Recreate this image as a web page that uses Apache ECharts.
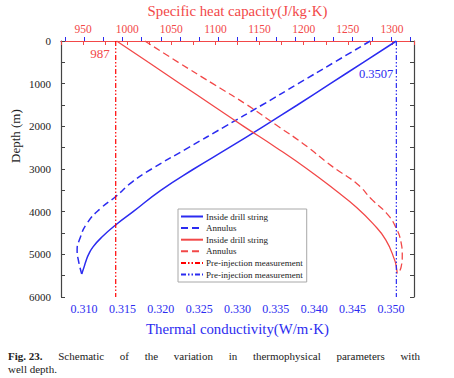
<!DOCTYPE html>
<html>
<head>
<meta charset="utf-8">
<script src="https://cdn.jsdelivr.net/npm/echarts@6/dist/echarts.min.js"></script>
<style>
html,body{margin:0;padding:0;background:#fff;}
#wrap{position:relative;width:454px;height:378px;}
#chart{position:absolute;left:0;top:0;width:454px;height:378px;}
.cap{position:absolute;left:8px;width:412px;font-family:'Liberation Serif','Times New Roman',serif;font-size:11px;line-height:12px;color:#222;white-space:nowrap;}
#cap1{top:350px;text-align:justify;text-align-last:justify;}
#cap2{top:363px;}
#cap1 b{display:inline-block;}
</style>
</head>
<body>
<div id="wrap">
<div id="chart"></div>
<div class="cap" id="cap1"><b>Fig. 23.</b> Schematic of the variation in thermophysical parameters with</div>
<div class="cap" id="cap2">well depth.</div>
</div>
<script>
// ---- data ----
const depthTicks = [0, 1000, 2000, 3000, 4000, 5000, 6000];
const condTickLabels = [0.310, 0.315, 0.320, 0.325, 0.330, 0.335, 0.340, 0.345, 0.350];
const heatTickLabels = [950, 1000, 1050, 1100, 1150, 1200, 1250, 1300];

// Thermal conductivity – inside drill string (blue solid)
const condInsideDepth = [0, 500, 1000, 1500, 2000, 2500, 3000, 3500, 4000, 4300, 4600, 4820, 5000, 5130, 5300, 5460];
const condInsideVal = [0.3507, 0.3464, 0.3421, 0.3378, 0.3334, 0.3289, 0.3243, 0.3200, 0.3164, 0.3142, 0.3123, 0.3112, 0.3106, 0.3103, 0.3100, 0.3097];

// Thermal conductivity – annulus (blue dashed)
const condAnnDepth = [0, 500, 1000, 1500, 2000, 2500, 3000, 3300, 3650, 3900, 4270, 4660, 4900, 5170, 5460];
const condAnnVal = [0.3473, 0.3426, 0.3379, 0.3332, 0.3284, 0.3236, 0.3188, 0.3163, 0.3141, 0.3123, 0.3104, 0.3094, 0.3091, 0.3093, 0.3097];

// Specific heat – inside drill string (red solid)
const heatInsideDepth = [0, 500, 1000, 1500, 2000, 2500, 3000, 3500, 3900, 4270, 4660, 5130, 5300, 5450];
const heatInsideVal = [988, 1024, 1060, 1096, 1132, 1169, 1204, 1236, 1260, 1278, 1293, 1303, 1305, 1306];

// Specific heat – annulus (red dashed)
const heatAnnDepth = [0, 500, 1000, 1500, 2000, 2400, 2950, 3340, 3730, 4040, 4350, 4740, 5015, 5290, 5450];
const heatAnnVal = [1020, 1058, 1097, 1136, 1171, 1199, 1233, 1260, 1278, 1294, 1304, 1310.5, 1311.7, 1310.5, 1307];

// Pre-injection measurements
const preHeat = 987;
const preCond = 0.3507;
const preDepth = [0, 6000];

const RED = '#f24848';
const BLUE = '#2b2bf0';
const SERIF = "'Liberation Serif','Times New Roman',serif";

function pairs(xs, ys) { return xs.map((x, i) => [x, ys[i]]); }

const condTicks = [];
for (let v = 0.3075; v < 0.3530; v += 0.0025) condTicks.push(+v.toFixed(4));

const chart = echarts.init(document.getElementById('chart'), null, {renderer: 'svg'});
const option = {
  animation: false,
  backgroundColor: '#fff',
  grid: {left: 61, right: 40, top: 41, bottom: 81, outerBoundsMode: 'none', containLabel: false},
  legend: {
    orient: 'vertical', left: 178, top: 209,
    itemWidth: 22, itemHeight: 8, itemGap: 2.6,
    padding: [3, 4, 3, 2],
    borderColor: '#a8a8a8', borderWidth: 1, backgroundColor: '#fff',
    itemStyle: {color: 'rgba(0,0,0,0)', borderColor: 'rgba(0,0,0,0)', borderWidth: 0, opacity: 0},
    textStyle: {fontFamily: SERIF, fontSize: 9, color: '#222', padding: [0, 0, 0, -2]},
    data: ['Inside drill string', 'Annulus', 'Inside drill string\u200b', 'Annulus\u200b', 'Pre-injection measurement', 'Pre-injection measurement\u200b']
  },
  xAxis: [{
    type: 'value', position: 'bottom', min: 0.307, max: 0.353,
    name: 'Thermal conductivity(W/m·K)', nameLocation: 'middle', nameGap: 24,
    nameTextStyle: {color: BLUE, fontFamily: SERIF, fontSize: 14.8},
    axisLine: {show: true, lineStyle: {color: BLUE, width: 1.2}},
    axisTick: {show: true, inside: true, length: 4, customValues: condTicks, lineStyle: {color: BLUE}},
    axisLabel: {customValues: condTickLabels, color: BLUE, fontFamily: SERIF, fontSize: 12, margin: 6,
      formatter: v => v.toFixed(3)},
    splitLine: {show: false}
  }, {
    type: 'value', position: 'top', min: 925, max: 1325, interval: 25,
    name: 'Specific heat capacity(J/kg·K)', nameLocation: 'middle', nameGap: 21,
    nameTextStyle: {color: RED, fontFamily: SERIF, fontSize: 14.8},
    axisLine: {show: true, lineStyle: {color: RED, width: 1.2}},
    axisTick: {show: true, inside: true, length: 4, lineStyle: {color: RED}},
    axisLabel: {color: RED, fontFamily: SERIF, fontSize: 11.5, margin: 6,
      formatter: v => (heatTickLabels.indexOf(v) >= 0 ? String(v) : '')},
    splitLine: {show: false}
  }],
  yAxis: [{
    type: 'value', inverse: true, min: 0, max: 6000, interval: 500, position: 'left',
    axisLine: {show: true, lineStyle: {color: '#444', width: 1.2}},
    axisTick: {show: true, inside: true, length: 4, lineStyle: {color: '#444'}},
    axisLabel: {color: '#222', fontFamily: SERIF, fontSize: 11, margin: 10,
      formatter: v => (depthTicks.indexOf(v) >= 0 ? String(v) : '')},
    splitLine: {show: false}
  }, {
    type: 'value', inverse: true, min: 0, max: 6000, interval: 500, position: 'right',
    axisLine: {show: true, lineStyle: {color: '#444', width: 1.2}},
    axisTick: {show: true, inside: true, length: 4, lineStyle: {color: '#444'}},
    axisLabel: {show: false},
    splitLine: {show: false}
  }],
  graphic: [{
    type: 'text', x: 9, y: 163, rotation: Math.PI / 2,
    style: {text: 'Depth (m)', fill: '#222', font: '13px ' + SERIF, textVerticalAlign: 'top'}
  }],
  series: [{
    name: 'Inside drill string', type: 'line', xAxisIndex: 0, yAxisIndex: 0,
    data: pairs(condInsideVal, condInsideDepth), symbol: 'none', smooth: 0.5,
    lineStyle: {color: BLUE, width: 1.5}, itemStyle: {color: BLUE}
  }, {
    name: 'Annulus', type: 'line', xAxisIndex: 0, yAxisIndex: 0,
    data: pairs(condAnnVal, condAnnDepth), symbol: 'none', smooth: 0.5,
    lineStyle: {color: BLUE, width: 1.5, type: [7, 4]}, itemStyle: {color: BLUE}
  }, {
    name: 'Inside drill string\u200b', type: 'line', xAxisIndex: 1, yAxisIndex: 0,
    data: pairs(heatInsideVal, heatInsideDepth), symbol: 'none', smooth: 0.5,
    lineStyle: {color: RED, width: 1.3}, itemStyle: {color: RED}
  }, {
    name: 'Annulus\u200b', type: 'line', xAxisIndex: 1, yAxisIndex: 0,
    data: pairs(heatAnnVal, heatAnnDepth), symbol: 'none', smooth: 0.5,
    lineStyle: {color: RED, width: 1.3, type: [7, 4]}, itemStyle: {color: RED}
  }, {
    name: 'Pre-injection measurement', type: 'line', xAxisIndex: 1, yAxisIndex: 0,
    data: preDepth.map(d => [preHeat, d]), symbol: 'none',
    lineStyle: {color: 'red', width: 1.2, type: [5, 2, 1.5, 2, 1.5, 2]}, itemStyle: {color: 'red'},
    markPoint: {
      symbol: 'circle', symbolSize: 0,
      data: [{coord: [preHeat, 0], value: preHeat}],
      label: {show: true, position: 'left', distance: 0, offset: [-6, 12], color: RED,
        fontFamily: SERIF, fontSize: 13, formatter: String(preHeat)}
    }
  }, {
    name: 'Pre-injection measurement\u200b', type: 'line', xAxisIndex: 0, yAxisIndex: 0,
    data: preDepth.map(d => [preCond, d]), symbol: 'none',
    lineStyle: {color: BLUE, width: 1.2, type: [5, 2, 1.5, 2, 1.5, 2]}, itemStyle: {color: BLUE},
    markPoint: {
      symbol: 'circle', symbolSize: 0,
      data: [{coord: [preCond, 0], value: preCond}],
      label: {show: true, position: 'left', distance: 0, offset: [-3, 33], color: BLUE,
        fontFamily: SERIF, fontSize: 12.5, formatter: String(preCond)}
    }
  }]
};
chart.setOption(option);
</script>
</body>
</html>
